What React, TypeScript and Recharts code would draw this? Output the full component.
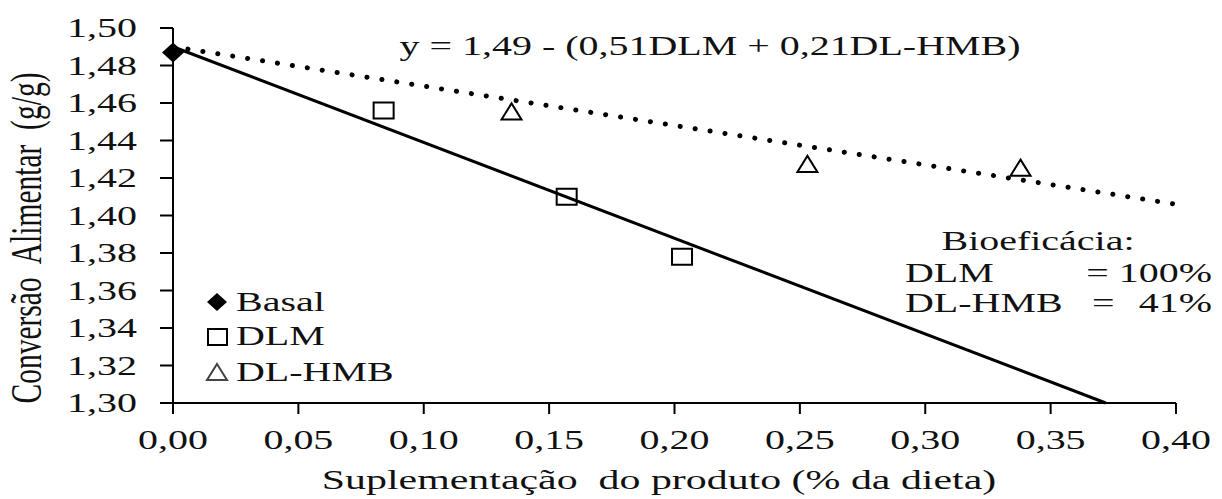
import React from 'react';
import { ScatterChart, Scatter, XAxis, YAxis, Customized } from 'recharts';

// Dose levels (% of diet) and feed conversion (g/g)
const basalPoints = [{ x: 0, y: 1.487 }];
const dlmPoints = [
  { x: 0.084, y: 1.456 },
  { x: 0.157, y: 1.41 },
  { x: 0.203, y: 1.378 },
];
const hmbPoints = [
  { x: 0.135, y: 1.455 },
  { x: 0.253, y: 1.427 },
  { x: 0.338, y: 1.425 },
];
// Fitted lines: y = 1,49 - 0,51 DLM  and  y = 1,49 - 0,21 DL-HMB
const dlmFit = [
  { x: 0, y: 1.49 },
  { x: 0.372, y: 1.3 },
];
const hmbFit = [
  { x: 0, y: 1.49 },
  { x: 0.4, y: 1.406 },
];

const xTicks = [0, 0.05, 0.1, 0.15, 0.2, 0.25, 0.3, 0.35, 0.4];
const yTicks = [1.3, 1.32, 1.34, 1.36, 1.38, 1.4, 1.42, 1.44, 1.46, 1.48, 1.5];

const equationText = 'y = 1,49 - (0,51DLM + 0,21DL-HMB)';
const xTitle = 'Suplementação  do produto (% da dieta)';
const yTitle = 'Conversão  Alimentar  (g/g)';
const legendLabels = ['Basal', 'DLM', 'DL-HMB'];

const FONT = "'Liberation Serif', 'Times New Roman', serif";
const FS = 27;
const SX = 1.48;
const INK = '#111';

const fmt = (v: number) => v.toFixed(2).replace('.', ',');

function T({
  x,
  y,
  anchor = 'start',
  size = FS,
  children,
}: {
  x: number;
  y: number;
  anchor?: 'start' | 'middle' | 'end';
  size?: number;
  children: React.ReactNode;
}) {
  return (
    <text
      transform={`translate(${x},${y}) scale(${SX},1)`}
      textAnchor={anchor}
      fontFamily={FONT}
      fontSize={size}
      fill={INK}
      style={{ whiteSpace: 'pre' }}
    >
      {children}
    </text>
  );
}

const YTick = (props: any) => {
  const { x, y, payload } = props;
  return <T x={x} y={y + 9} anchor="end">{fmt(payload.value)}</T>;
};

const XTick = (props: any) => {
  const { x, y, payload } = props;
  return <T x={x} y={y + 35} anchor="middle">{fmt(payload.value)}</T>;
};

const Diamond = (props: any) => {
  const { cx, cy } = props;
  const w = 11;
  const h = 10;
  return (
    <path
      d={`M${cx - w},${cy} L${cx},${cy - h} L${cx + w},${cy} L${cx},${cy + h} Z`}
      fill="#000"
    />
  );
};

const Square = (props: any) => {
  const { cx, cy } = props;
  return (
    <rect x={cx - 10} y={cy - 8} width={20} height={16} fill="none" stroke="#000" strokeWidth={2} />
  );
};

const Triangle = (props: any) => {
  const { cx, cy } = props;
  return (
    <path
      d={`M${cx},${cy - 9} L${cx + 10},${cy + 7} L${cx - 10},${cy + 7} Z`}
      fill="none"
      stroke="#000"
      strokeWidth={2}
    />
  );
};

const Nothing = () => <g />;

function Notes() {
  return (
    <g>
      {/* regression equation */}
      <T x={710} y={55} anchor="middle">{equationText}</T>

      {/* bioefficacy box */}
      <T x={1038} y={250} anchor="middle">Bioeficácia:</T>
      <T x={905} y={282}>DLM</T>
      <T x={1212} y={282} anchor="end">= 100%</T>
      <T x={905} y={312}>DL-HMB</T>
      <T x={1092} y={312}>=</T>
      <T x={1212} y={312} anchor="end">41%</T>

      {/* legend */}
      <path d="M207,302 L217,293 L227,302 L217,311 Z" fill="#000" />
      <rect x={208} y={329} width={19} height={16} fill="none" stroke="#000" strokeWidth={2} />
      <path d="M217,364 L227,380 L207,380 Z" fill="none" stroke="#444" strokeWidth={2} />
      <T x={236} y={311}>{legendLabels[0]}</T>
      <T x={236} y={345}>{legendLabels[1]}</T>
      <T x={236} y={381}>{legendLabels[2]}</T>

      {/* axis titles */}
      <T x={659} y={489} anchor="middle" size={28.3}>{xTitle}</T>
      <text
        transform={`translate(41,238) scale(${SX},1) rotate(-90)`}
        textAnchor="middle"
        fontFamily={FONT}
        fontSize={29.5}
        fill={INK}
        style={{ whiteSpace: 'pre' }}
      >
        {yTitle}
      </text>
    </g>
  );
}

export default function App() {
  return (
    <div style={{ position: 'absolute', left: 0, top: 0, width: 1222, height: 499, background: '#fff' }}>
      <ScatterChart width={1222} height={499} margin={{ top: 28, right: 46, bottom: 0, left: 0 }}>
        <XAxis
          type="number"
          dataKey="x"
          domain={[0, 0.4]}
          ticks={xTicks}
          interval={0}
          height={96}
          tickSize={11}
          tickMargin={0}
          axisLine={{ stroke: '#000', strokeWidth: 2 }}
          tickLine={{ stroke: '#000', strokeWidth: 2 }}
          tick={<XTick />}
        />
        <YAxis
          type="number"
          dataKey="y"
          domain={[1.3, 1.5]}
          ticks={yTicks}
          interval={0}
          width={173}
          tickSize={13}
          tickMargin={23}
          axisLine={{ stroke: '#000', strokeWidth: 2 }}
          tickLine={{ stroke: '#000', strokeWidth: 2 }}
          tick={<YTick />}
        />
        <Scatter
          data={dlmFit}
          line={{ stroke: '#000', strokeWidth: 3 }}
          shape={Nothing}
          isAnimationActive={false}
        />
        <Scatter
          data={hmbFit}
          line={{ stroke: '#000', strokeWidth: 5, strokeDasharray: '0.1 15', strokeLinecap: 'round' }}
          shape={Nothing}
          isAnimationActive={false}
        />
        <Scatter data={dlmPoints} shape={Square} isAnimationActive={false} />
        <Scatter data={hmbPoints} shape={Triangle} isAnimationActive={false} />
        <Scatter data={basalPoints} shape={Diamond} isAnimationActive={false} />
        <Customized component={Notes} />
      </ScatterChart>
    </div>
  );
}
